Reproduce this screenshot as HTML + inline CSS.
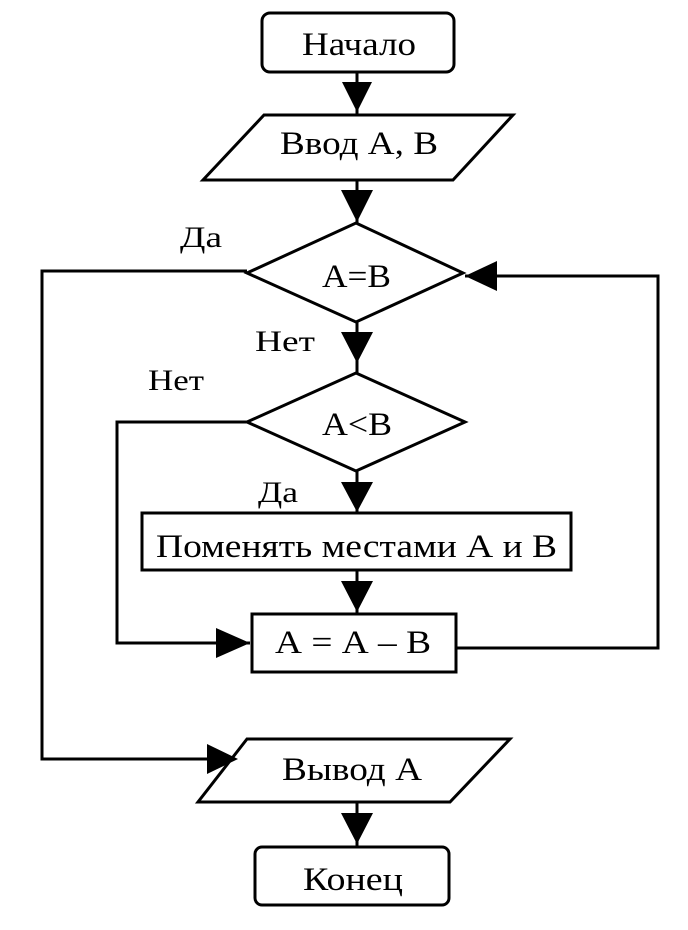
<!DOCTYPE html>
<html><head><meta charset="utf-8"><style>
html,body{margin:0;padding:0;background:#fff;}
svg{display:block;}
text{font-family:"Liberation Serif","DejaVu Serif",serif;fill:#000;}
</style></head><body>
<svg width="688" height="930" viewBox="0 0 688 930" xmlns="http://www.w3.org/2000/svg">
<g fill="none" stroke="#000" stroke-width="3" stroke-linejoin="miter">
<!-- Начало -->
<rect x="262" y="13" width="192" height="59" rx="8"/>
<!-- Ввод -->
<polygon points="264,115 513,115 453,180 203,180"/>
<!-- A=B diamond -->
<polygon points="356,223 463,273 356,322 247,273"/>
<!-- A<B diamond -->
<polygon points="356,373 465,422 356,471 247,422"/>
<!-- Поменять -->
<rect x="142" y="513" width="429" height="57"/>
<!-- A=A-B -->
<rect x="252" y="614" width="204" height="58"/>
<!-- Вывод -->
<polygon points="247,739 510,739 450,802 198,802"/>
<!-- Конец -->
<rect x="255" y="847" width="194" height="58" rx="7"/>
<!-- connectors -->
<line x1="357" y1="72" x2="357" y2="115"/>
<line x1="357" y1="180" x2="357" y2="223"/>
<line x1="357" y1="322" x2="357" y2="373"/>
<line x1="357" y1="471" x2="357" y2="513"/>
<line x1="357" y1="570" x2="357" y2="614"/>
<line x1="357" y1="802" x2="357" y2="847"/>
<polyline points="247,271 42,271 42,759 230,759"/>
<polyline points="247,422 117,422 117,643 250,643"/>
<polyline points="456,648 658,648 658,276 465,276"/>
</g>
<g fill="#000" stroke="none">
<polygon points="342,82 372,82 357,112"/>
<polygon points="341,190 373,190 357,222"/>
<polygon points="341,332 373,332 357,363"/>
<polygon points="341,482 373,482 357,512"/>
<polygon points="341,581 373,581 357,612"/>
<polygon points="341,813 373,813 357,844"/>
<polygon points="216,628 216,658 250,643"/>
<polygon points="207,744 207,774 238,759"/>
<polygon points="465,276 497,261 497,291"/>
</g>
<g font-size="33">
<text x="302" y="55" textLength="114" lengthAdjust="spacingAndGlyphs">Начало</text>
<text x="280" y="154" textLength="158" lengthAdjust="spacingAndGlyphs">Ввод А, В</text>
<text x="322" y="287" textLength="69" lengthAdjust="spacingAndGlyphs">А=В</text>
<text x="322" y="435" textLength="70" lengthAdjust="spacingAndGlyphs">А&lt;В</text>
<text x="156" y="557" textLength="401" lengthAdjust="spacingAndGlyphs">Поменять местами А и В</text>
<text x="275" y="653" textLength="156" lengthAdjust="spacingAndGlyphs">А = А – В</text>
<text x="282" y="780" textLength="140" lengthAdjust="spacingAndGlyphs">Вывод А</text>
<text x="303" y="890" textLength="100" lengthAdjust="spacingAndGlyphs">Конец</text>
</g>
<g font-size="30">
<text x="180" y="247" textLength="42" lengthAdjust="spacingAndGlyphs">Да</text>
<text x="255" y="351" textLength="60" lengthAdjust="spacingAndGlyphs">Нет</text>
<text x="148" y="390" textLength="56" lengthAdjust="spacingAndGlyphs">Нет</text>
<text x="258" y="502" textLength="40" lengthAdjust="spacingAndGlyphs">Да</text>
</g>
</svg>
</body></html>
